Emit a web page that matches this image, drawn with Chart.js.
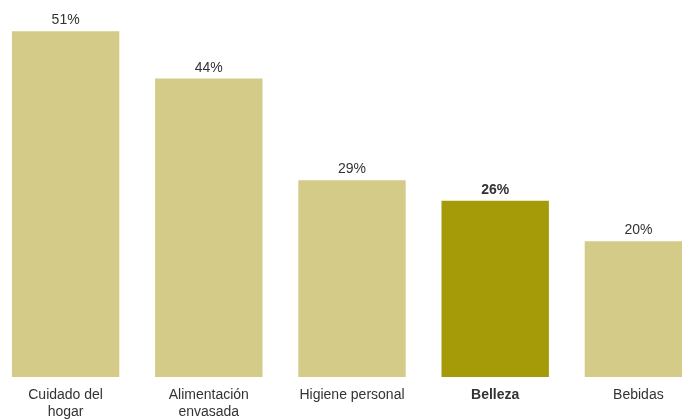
<!DOCTYPE html>
<html>
<head>
<meta charset="utf-8">
<script src="https://cdn.jsdelivr.net/npm/chart.js@4.4.1/dist/chart.umd.min.js"></script>
<style>
  html, body { margin: 0; padding: 0; background: #ffffff; overflow: hidden; }
  body { width: 682px; height: 420px; position: relative; }
  #wrap { position: absolute; left: -6px; top: 0; width: 716px; height: 420px; }
</style>
</head>
<body>
<div id="wrap"><canvas id="chart"></canvas></div>
<script>
// Categories (multi-line labels) and share values in percent
const categories = [
  ['Cuidado del', 'hogar'],
  ['Alimentación', 'envasada'],
  'Higiene personal',
  'Belleza',
  'Bebidas'
];
const shares = [51, 44, 29, 26, 20];
const highlighted = [false, false, false, true, false];

const baseColor = '#D3CB87';
const accentColor = '#A59A07';
const textColor = '#333333';
const fontFamily = '"Liberation Sans", Arial, sans-serif';

// Percent labels above each bar
const valueLabels = {
  id: 'valueLabels',
  afterDatasetsDraw(chart) {
    const ctx = chart.ctx;
    const meta = chart.getDatasetMeta(0);
    ctx.save();
    ctx.textAlign = 'center';
    ctx.textBaseline = 'alphabetic';
    ctx.fillStyle = textColor;
    meta.data.forEach((bar, i) => {
      ctx.font = (highlighted[i] ? 'bold ' : '') + '14px ' + fontFamily;
      ctx.fillText(shares[i] + '%', bar.x, bar.y - 7);
    });
    ctx.restore();
  }
};

new Chart(document.getElementById('chart'), {
  type: 'bar',
  data: {
    labels: categories,
    datasets: [{
      data: shares,
      backgroundColor: highlighted.map(h => h ? accentColor : baseColor),
      borderWidth: 0,
      categoryPercentage: 0.75,
      barPercentage: 1.0
    }]
  },
  options: {
    responsive: true,
    maintainAspectRatio: false,
    animation: false,
    layout: { padding: { top: 4, bottom: 0, left: 0, right: 0 } },
    plugins: {
      legend: { display: false },
      tooltip: { enabled: false }
    },
    scales: {
      x: {
        grid: { display: false },
        border: { display: false },
        ticks: {
          color: textColor,
          padding: 2,
          maxRotation: 0,
          autoSkip: false,
          font: (c) => ({
            family: fontFamily,
            size: 14,
            lineHeight: 1.2,
            weight: highlighted[c.index] ? 'bold' : 'normal'
          })
        },
        afterFit(scale) { scale.height = 43; }
      },
      y: {
        display: false,
        min: 0,
        max: 55
      }
    }
  },
  plugins: [valueLabels]
});
</script>
</body>
</html>
